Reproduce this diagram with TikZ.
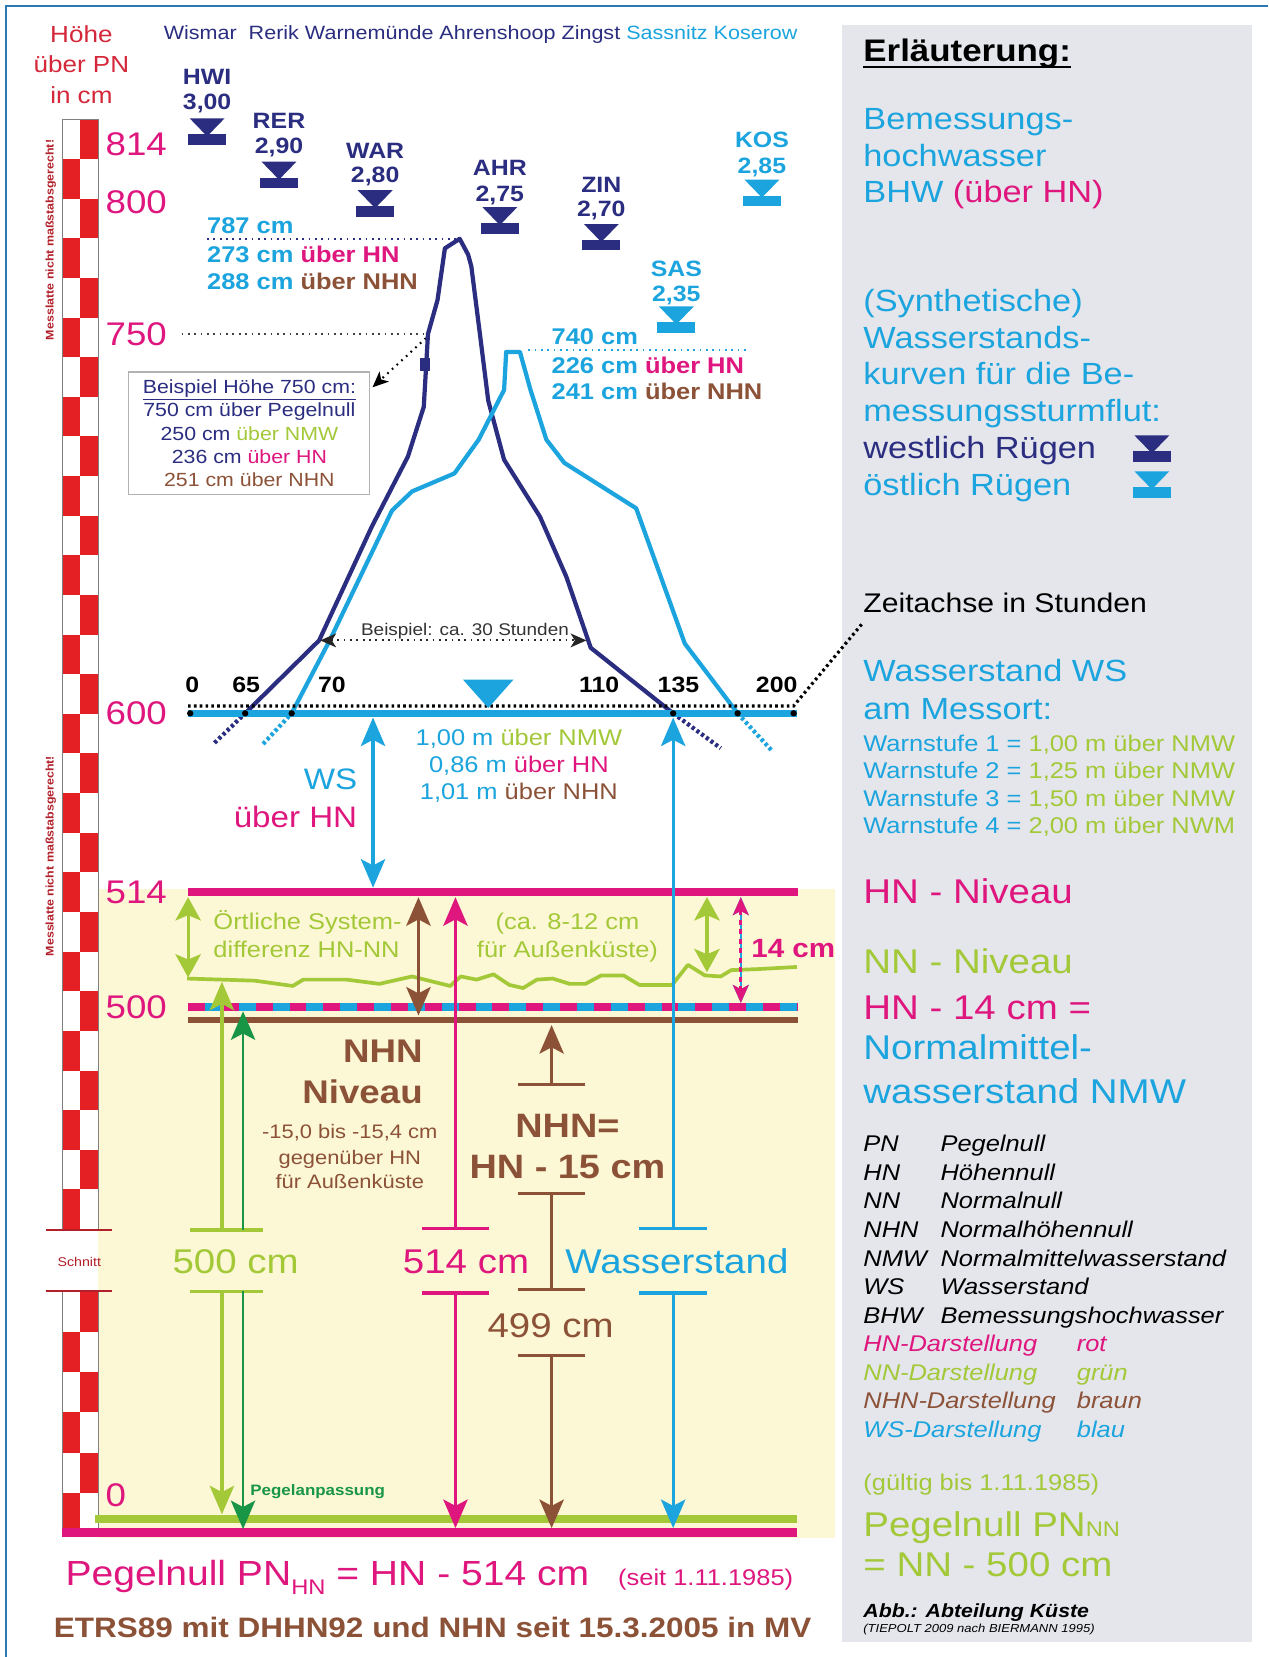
\documentclass[tikz,border=0pt]{standalone}
\usepackage{fontspec}
\setmainfont{Liberation Sans}[FakeStretch=1.12]
\usepackage{xcolor}
\usetikzlibrary{positioning,calc,arrows.meta}

\definecolor{navy}{RGB}{43,46,128}
\definecolor{wsblue}{RGB}{27,164,221}
\definecolor{hnred}{RGB}{222,22,126}
\definecolor{nngreen}{RGB}{163,200,56}
\definecolor{pegelgreen}{RGB}{24,150,70}
\definecolor{nhnbrown}{RGB}{140,82,56}
\definecolor{latte}{RGB}{228,32,36}
\definecolor{darkred}{RGB}{178,32,42}
\definecolor{hoehered}{RGB}{212,40,58}
\definecolor{panelgrey}{RGB}{228,230,236}
\definecolor{cream}{RGB}{252,247,212}
\definecolor{frameblue}{RGB}{45,121,179}

\tikzset{
	% Pegelsymbol (Dreieck mit Balken)
	gauge/.pic={
		\fill[pic actions] (-16.5,0) -- (16.5,0) -- (0,17) -- cycle;
		\fill[pic actions] (-18,15) rectangle (18,25);
	},
	% Pfeilspitzen
	tbar/.tip={Bar[width=64pt]},
	bigtip/.tip={Stealth[length=27pt,width=23pt,inset=6pt]},
	greentip/.tip={Stealth[length=22pt,width=24pt,inset=5pt]},
	smalltip/.tip={Stealth[length=17pt,width=15pt,inset=4pt]},
	dottip/.tip={Stealth[length=15pt,width=13pt,inset=4pt]}
}

\begin{document}
\begin{tikzpicture}[x=1pt, y=-1pt,
	% Grundstil für Texte
	txt/.style={inner sep=0pt, outer sep=0pt},
	% Stationsnamen über den Pegelsymbolen
	gaugelbl/.style={txt, anchor=base, font=\fontsize{21}{21}\selectfont\bfseries},
	% Höhenwerte an der Messlatte
	levellbl/.style={txt, anchor=base west, text=hnred, font=\fontsize{31}{31}\selectfont},
	% Zahlen der Zeitachse
	axislbl/.style={txt, anchor=base, font=\fontsize{21}{21}\selectfont\bfseries},
	% Scheitelwerte der Kurven
	peaklbl/.style={txt, anchor=base west, text=wsblue, font=\fontsize{21.5}{21.5}\selectfont\bfseries},
	% Texte in der Erläuterung
	panelbig/.style={txt, anchor=base west, font=\fontsize{29}{29}\selectfont},
	panelhuge/.style={txt, anchor=base west, font=\fontsize{32.5}{32.5}\selectfont},
	warn/.style={txt, anchor=base west, text=wsblue, font=\fontsize{21.5}{21.5}\selectfont},
	abbr/.style={txt, anchor=base west, font=\fontsize{21.5}{21.5}\selectfont\itshape},
	% große Maßangaben unten
	midlbl/.style={txt, anchor=base, font=\fontsize{32.5}{32.5}\selectfont},
	% Linien
	curvewest/.style={navy, line width=4, line join=round},
	curveeast/.style={wsblue, line width=4, line join=round},
	tail/.style={line width=4, dash pattern=on 3pt off 2.5pt},
	dimline/.style={line width=3},
	dots/.style={line width=2, dash pattern=on 1.6pt off 4.4pt}
	]

	\useasboundingbox (0,0) rectangle (1200,1568);

	% ================= Flächen und Rahmen =================
	\fill[white] (0,0) rectangle (1200,1568);
	\fill[panelgrey] (797,24) rectangle (1185,1554);
	\fill[cream] (93,841) rectangle (790,1455);
	\draw[frameblue, line width=2] (6,1568) -- (6,5.5) -- (1200,5.5);

	% ================= Messlatte =================
	\foreach \i in {0,...,13} {
		\fill[latte] (76,113+75*\i) rectangle (93,150.5+75*\i);
		\fill[latte] (59,150.5+75*\i) rectangle (76,188+75*\i);
	}
	\draw[gray, line width=0.6] (59,113) rectangle (93,1163);
	\foreach \i in {0,1,2} {
		\fill[latte] (76,1222+76.33*\i) rectangle (93,1260.17+76.33*\i);
		\fill[latte] (59,1260.17+76.33*\i) rectangle (76,1298.33+76.33*\i);
	}
	\draw[gray, line width=0.6] (59,1222) rectangle (93,1451);

	% Schnitt
	\draw[darkred, line width=2] (44,1164) -- (106,1164);
	\draw[darkred, line width=2] (44,1222) -- (106,1222);
	\node[txt, text=darkred, font=\fontsize{12}{12}\selectfont] (schnitt) at (75,1194) {Schnitt};

	\node[txt, rotate=90, text=darkred, font=\fontsize{10.5}{10.5}\selectfont\bfseries] (latteoben) at (48,227) {Messlatte nicht maßstabsgerecht!};
	\node[txt, rotate=90, text=darkred, font=\fontsize{10.5}{10.5}\selectfont\bfseries] (latteunten) at (48,810) {Messlatte nicht maßstabsgerecht!};

	% ================= Kopf =================
	\node[txt, anchor=base, text=hoehered, font=\fontsize{22}{22}\selectfont] (hoehe1) at (77,40) {Höhe};
	\node[txt, anchor=base, text=hoehered, font=\fontsize{22}{22}\selectfont] (hoehe2) at (77,69) {über PN};
	\node[txt, anchor=base, text=hoehered, font=\fontsize{22}{22}\selectfont] (hoehe3) at (77,98) {in cm};

	\node[txt, anchor=base west, text=navy, font=\fontsize{18.2}{18.2}\selectfont] (orte) at (155,37)
		{Wismar\ \ Rerik Warnemünde Ahrenshoop Zingst \textcolor{wsblue}{Sassnitz Koserow}};

	% Höhenwerte
	\node[levellbl] (h814) at (100,147) {814};
	\node[levellbl] (h800) at (100,202) {800};
	\node[levellbl] (h750) at (100,327) {750};
	\node[levellbl] (h600) at (100,686) {600};
	\node[levellbl] (h514) at (100,855) {514};
	\node[levellbl] (h500) at (100,964) {500};
	\node[levellbl] (h0) at (100,1426) {0};

	% ================= Pegel (BHW) =================
	\node[gaugelbl, text=navy] (hwi) at (196,80) {HWI};
	\node[gaugelbl, text=navy] (hwiv) at (196,104) {3,00};
	\pic[fill=navy] at (196,112) {gauge};
	\node[gaugelbl, text=navy] (rer) at (264,122) {RER};
	\node[gaugelbl, text=navy] (rerv) at (264,145) {2,90};
	\pic[fill=navy] at (264,153) {gauge};
	\node[gaugelbl, text=navy] (war) at (355,150) {WAR};
	\node[gaugelbl, text=navy] (warv) at (355,173) {2,80};
	\pic[fill=navy] at (355,180) {gauge};
	\node[gaugelbl, text=navy] (ahr) at (473,166) {AHR};
	\node[gaugelbl, text=navy] (ahrv) at (473,191) {2,75};
	\pic[fill=navy] at (473,196) {gauge};
	\node[gaugelbl, text=navy] (zin) at (569,182) {ZIN};
	\node[gaugelbl, text=navy] (zinv) at (569,205) {2,70};
	\pic[fill=navy] at (569,212) {gauge};
	\node[gaugelbl, text=wsblue] (sas) at (640,262) {SAS};
	\node[gaugelbl, text=wsblue] (sasv) at (640,285) {2,35};
	\pic[fill=wsblue] at (640,290) {gauge};
	\node[gaugelbl, text=wsblue] (kos) at (721,140) {KOS};
	\node[gaugelbl, text=wsblue] (kosv) at (721,164) {2,85};
	\pic[fill=wsblue] at (721,170) {gauge};

	% ================= Scheitelwerte =================
	\coordinate (peakW) at (435,226);
	\coordinate (peakE) at (500,331);
	\coordinate (c750) at (405,316);
	\draw[navy, dots] (196,226) -- (peakW);
	\draw[wsblue, dots] (peakE) -- (707,331);
	\draw[black!75, dots] (172,316) -- (c750);

	\node[peaklbl] (p787) at (196,221) {787 cm};
	\node[peaklbl] (p273) at (196,248) {273 cm \textcolor{hnred}{über HN}};
	\node[peaklbl] (p288) at (196,274) {288 cm \textcolor{nhnbrown}{über NHN}};
	\node[peaklbl] (p740) at (522,326) {740 cm};
	\node[peaklbl] (p226) at (522,353) {226 cm \textcolor{hnred}{über HN}};
	\node[peaklbl] (p241) at (522,378) {241 cm \textcolor{nhnbrown}{über NHN}};

	% Beispielkasten
	\node[draw=gray!60, line width=1, fill=white, align=center, text=navy,
		font=\fontsize{18}{22}\selectfont, inner xsep=6pt, inner ysep=4pt,
		minimum width=228pt, minimum height=116pt] (bsp) at (236,410)
		{\underline{Beispiel Höhe 750 cm:}\\750 cm über Pegelnull\\250 cm \textcolor{nngreen}{über NMW}\\236 cm \textcolor{hnred}{über HN}\\\textcolor{nhnbrown}{251 cm über NHN}};
	\draw[black, dots, -dottip] (403,320) -- ([shift={(2,15)}]bsp.north east);

	% ================= Wasserstandskurven =================
	\draw[curvewest] (232,675) -- (302,606) -- (352,498) -- (386,432) -- (401,385) -- (405,316)
		-- (414,284) -- (421,235) -- (435,226) -- (443,241) -- (446,252) -- (454,315) -- (462,379)
		-- (477,435) -- (511,489) -- (536,546) -- (559,613) -- (637,675);
	\draw[curveeast] (276,675) -- (312,606) -- (371,483) -- (390,465) -- (430,448) -- (453,416)
		-- (477,369) -- (479,333) -- (492,333) -- (502,369) -- (517,416) -- (534,438) -- (602,481)
		-- (648,609) -- (698,675);
	\draw[navy, tail] (203,703) -- (232,675);
	\draw[navy, tail] (637,675) -- (682,708);
	\draw[wsblue, tail] (249,704) -- (276,675);
	\draw[wsblue, tail] (698,675) -- (731,711);
	\fill[navy] (397,339) rectangle (407,351);

	% Dauer
	\coordinate (t70) at (303,606);
	\coordinate (t110) at (555,606);
	\draw[black!85, dots, dottip-dottip] (t70) -- (t110);
	\node[txt, anchor=base, text=black!80, font=\fontsize{16}{16}\selectfont] (dauer) at (440,601) {Beispiel: ca. 30 Stunden};

	% ================= Zeitachse (600) =================
	\coordinate (axL) at (178,675);
	\coordinate (axR) at (754,675);
	\coordinate (zeit) at (816,590);
	\draw[wsblue, line width=6.5] (axL) -- (axR);
	\draw[black, line width=3, dash pattern=on 2.5pt off 3pt] (178,668) -- (751,668) -- (zeit);
	\foreach \x in {180,232,276,637,698,751} \fill[black] (\x,675) circle (3);
	\fill[wsblue] (438,643) -- (486,643) -- (462,670) -- cycle;

	\node[axislbl] (a0) at (182,655) {0};
	\node[axislbl] (a65) at (233,655) {65};
	\node[axislbl] (a70) at (314,655) {70};
	\node[axislbl] (a110) at (567,655) {110};
	\node[axislbl] (a135) at (642,655) {135};
	\node[axislbl] (a200) at (735,655) {200};

	\node[txt, anchor=base, text=wsblue, font=\fontsize{21.5}{21.5}\selectfont] (ws1) at (491,705) {1,00 m \textcolor{nngreen}{über NMW}};
	\node[txt, anchor=base, text=wsblue, font=\fontsize{21.5}{21.5}\selectfont] (ws2) at (491,731) {0,86 m \textcolor{hnred}{über HN}};
	\node[txt, anchor=base, text=wsblue, font=\fontsize{21.5}{21.5}\selectfont] (ws3) at (491,757) {1,01 m \textcolor{nhnbrown}{über NHN}};
	\node[txt, anchor=base east, text=wsblue, font=\fontsize{28}{28}\selectfont] (wslbl) at (338,747) {WS};
	\node[txt, anchor=base east, text=hnred, font=\fontsize{28}{28}\selectfont] (wshn) at (338,783) {über HN};

	% ================= Höhenniveaus =================
	\draw[hnred, line width=7] (178,844) -- (755,844);
	\draw[wsblue, line width=7] (178,953) -- (755,953);
	\draw[hnred, line width=7, dash pattern=on 16pt off 16pt] (178,953) -- (755,953);
	\draw[nhnbrown, line width=6] (178,965) -- (755,965);
	\draw[nngreen, line width=3.5, line join=round] (177,926) -- (210,927) -- (241,928) -- (277,933)
		-- (287,927) -- (328,927) -- (359,931) -- (390,924) -- (410,929) -- (426,933) -- (436,924)
		-- (451,927) -- (467,922) -- (482,932) -- (495,935) -- (508,927) -- (523,926) -- (539,931)
		-- (554,931) -- (569,923) -- (590,923) -- (605,932) -- (636,932) -- (651,913) -- (667,923)
		-- (682,924) -- (692,918) -- (718,917) -- (754,915);
	\draw[nngreen, line width=7] (90,1437.5) -- (754,1437.5);
	\draw[hnred, line width=8] (59,1450) -- (754,1450);

	% ================= Maßpfeile =================
	% WS über HN
	\coordinate (wsTop) at (353,679);
	\coordinate (wsBot) at (353,840);
	\draw[wsblue, dimline, bigtip-bigtip] (wsTop) -- (wsBot);

	% Systemdifferenz HN-NN
	\draw[nngreen, dimline, greentip-greentip] (178,849) -- (178,925);
	\draw[nngreen, dimline, greentip-greentip] (669,849) -- (669,920);
	\draw[nhnbrown, dimline, bigtip-bigtip] (396,849) -- (396,961);

	% 14 cm
	\draw[wsblue, line width=1.8, smalltip-smalltip] (701,849) -- (701,949);
	\draw[hnred, line width=2.5, dash pattern=on 5pt off 4pt, smalltip-smalltip] (701,849) -- (701,949);
	\node[txt, anchor=base west, text=hnred, font=\fontsize{25}{25}\selectfont\bfseries] (cm14) at (711,906) {14 cm};

	% 500 cm / Pegelanpassung
	\draw[nngreen, dimline] (180,1164) -- (249,1164);
	\draw[nngreen, dimline] (180,1222) -- (249,1222);
	\draw[nngreen, dimline, -bigtip] (210,1164) -- (210,929);
	\draw[pegelgreen, line width=2.5, -bigtip] (230,1164) -- (230,957);
	\draw[nngreen, dimline, -bigtip] (210,1222) -- (210,1433);
	\draw[pegelgreen, line width=2.5, -bigtip] (230,1222) -- (230,1447);

	% 514 cm
	\draw[hnred, dimline, tbar-bigtip] (431,1164) -- (431,849);
	\draw[hnred, dimline, tbar-bigtip] (431,1222) -- (431,1446);

	% Wasserstand
	\draw[wsblue, dimline, tbar-bigtip] (637,1164) -- (637,679);
	\draw[wsblue, dimline, tbar-bigtip] (637,1222) -- (637,1446);

	% NHN
	\draw[nhnbrown, dimline, tbar-bigtip] (522,1028) -- (522,970);
	\draw[nhnbrown, dimline, tbar-tbar] (522,1128) -- (522,1222);
	\draw[nhnbrown, dimline, tbar-bigtip] (522,1281) -- (522,1446);

	% ================= Texte im Pegelbereich =================
	\node[txt, anchor=base west, text=nngreen, font=\fontsize{21.5}{21.5}\selectfont] (sys1) at (202,880) {Örtliche System-};
	\node[txt, anchor=base west, text=nngreen, font=\fontsize{21.5}{21.5}\selectfont] (sys2) at (202,906) {differenz HN-NN};
	\node[txt, anchor=base, text=nngreen, font=\fontsize{21.5}{21.5}\selectfont] (ca1) at (537,880) {(ca. 8-12 cm};
	\node[txt, anchor=base, text=nngreen, font=\fontsize{21.5}{21.5}\selectfont] (ca2) at (537,906) {für Außenküste)};

	\node[txt, anchor=base east, text=nhnbrown, font=\fontsize{31}{31}\selectfont\bfseries] (nhn1) at (400,1005) {NHN};
	\node[txt, anchor=base east, text=nhnbrown, font=\fontsize{31}{31}\selectfont\bfseries] (nhn2) at (400,1044) {Niveau};
	\node[txt, anchor=base, text=nhnbrown, font=\fontsize{18.5}{18.5}\selectfont] (diff1) at (331,1077) {-15,0 bis -15,4 cm};
	\node[txt, anchor=base, text=nhnbrown, font=\fontsize{18.5}{18.5}\selectfont] (diff2) at (331,1102) {gegenüber HN};
	\node[txt, anchor=base, text=nhnbrown, font=\fontsize{18.5}{18.5}\selectfont] (diff3) at (331,1125) {für Außenküste};
	\node[txt, anchor=base, text=nhnbrown, font=\fontsize{32}{32}\selectfont\bfseries] (nhneq1) at (537,1076) {NHN=};
	\node[txt, anchor=base, text=nhnbrown, font=\fontsize{32}{32}\selectfont\bfseries] (nhneq2) at (537,1115) {HN - 15 cm};

	\node[midlbl, text=nngreen] (m500) at (223,1205) {500 cm};
	\node[midlbl, text=hnred] (m514) at (441,1205) {514 cm};
	\node[midlbl, anchor=base west, text=wsblue] (mws) at (535,1205) {Wasserstand};
	\node[midlbl, text=nhnbrown] (m499) at (521,1266) {499 cm};
	\node[txt, anchor=base west, text=pegelgreen, font=\fontsize{14.3}{14.3}\selectfont\bfseries] (anpass) at (237,1415) {Pegelanpassung};

	% ================= Fußzeilen =================
	\node[txt, anchor=base west, text=hnred, font=\fontsize{33}{33}\selectfont] (pnhn) at (62,1500)
		{Pegelnull PN\raisebox{-9pt}{\fontsize{20}{20}\selectfont HN} = HN - 514 cm};
	\node[txt, anchor=base west, text=hnred, font=\fontsize{21.5}{21.5}\selectfont] (seit) at (585,1500) {(seit 1.11.1985)};
	\node[txt, anchor=base west, text=nhnbrown, font=\fontsize{26.6}{26.6}\selectfont\bfseries] (etrs) at (51,1550)
		{ETRS89 mit DHHN92 und NHN seit 15.3.2005 in MV};

	% ================= Erläuterung =================
	\node[txt, anchor=base west, font=\fontsize{29.5}{29.5}\selectfont\bfseries] (erl) at (817,58) {Erläuterung:};
	\draw[line width=1.8] ([yshift=-5pt]erl.base west) -- ([yshift=-5pt]erl.base east);

	\node[panelbig, text=wsblue] (bhw1) at (817,123) {Bemessungs-};
	\node[panelbig, text=wsblue] (bhw2) at (817,158) {hochwasser};
	\node[panelbig, text=wsblue] (bhw3) at (817,192) {BHW \textcolor{hnred}{(über HN)}};

	\node[panelbig, text=wsblue] (syn1) at (817,295) {(Synthetische)};
	\node[panelbig, text=wsblue] (syn2) at (817,330) {Wasserstands-};
	\node[panelbig, text=wsblue] (syn3) at (817,364) {kurven für die Be-};
	\node[panelbig, text=wsblue] (syn4) at (817,399) {messungssturmflut:};
	\node[panelbig, text=navy] (west) at (817,434) {westlich Rügen};
	\node[panelbig, text=wsblue] (ost) at (817,469) {östlich Rügen};
	\pic[fill=navy] at (1090,412) {gauge};
	\pic[fill=wsblue] at (1090,446) {gauge};

	\node[txt, anchor=base west, font=\fontsize{25.5}{25.5}\selectfont] (zeitlbl) at (817,580) {Zeitachse in Stunden};

	\node[panelbig, text=wsblue] (wsp1) at (817,645) {Wasserstand WS};
	\node[panelbig, text=wsblue] (wsp2) at (817,681) {am Messort:};
	\node[warn] (warn1) at (817,711) {Warnstufe 1 = \textcolor{nngreen}{1,00 m über NMW}};
	\node[warn] (warn2) at (817,737) {Warnstufe 2 = \textcolor{nngreen}{1,25 m über NMW}};
	\node[warn] (warn3) at (817,763) {Warnstufe 3 = \textcolor{nngreen}{1,50 m über NMW}};
	\node[warn] (warn4) at (817,789) {Warnstufe 4 = \textcolor{nngreen}{2,00 m über NWM}};

	\node[panelhuge, text=hnred] (hnniv) at (817,855) {HN - Niveau};
	\node[panelhuge, text=nngreen] (nnniv) at (817,921) {NN - Niveau};
	\node[panelhuge, text=hnred] (hn14) at (817,965) {HN - 14 cm =};
	\node[panelhuge, text=wsblue] (nmw1) at (817,1003) {Normalmittel-};
	\node[panelhuge, text=wsblue] (nmw2) at (817,1044) {wasserstand NMW};

	% Abkürzungen
	\node[abbr] (pn) at (817,1090) {PN};            \node[abbr] (pnd) at (890,1090) {Pegelnull};
	\node[abbr] (hn) at (817,1117) {HN};            \node[abbr] (hnd) at (890,1117) {Höhennull};
	\node[abbr] (nn) at (817,1144) {NN};            \node[abbr] (nnd) at (890,1144) {Normalnull};
	\node[abbr] (nhn) at (817,1171) {NHN};          \node[abbr] (nhnd) at (890,1171) {Normalhöhennull};
	\node[abbr] (nmw) at (817,1198) {NMW};          \node[abbr] (nmwd) at (890,1198) {Normalmittelwasserstand};
	\node[abbr] (ws) at (817,1225) {WS};            \node[abbr] (wsd) at (890,1225) {Wasserstand};
	\node[abbr] (bhw) at (817,1252) {BHW};          \node[abbr] (bhwd) at (890,1252) {Bemessungshochwasser};
	\node[abbr, text=hnred] (dhn) at (817,1279) {HN-Darstellung};       \node[abbr, text=hnred] (dhnf) at (1019,1279) {rot};
	\node[abbr, text=nngreen] (dnn) at (817,1306) {NN-Darstellung};     \node[abbr, text=nngreen] (dnnf) at (1019,1306) {grün};
	\node[abbr, text=nhnbrown] (dnhn) at (817,1333) {NHN-Darstellung};  \node[abbr, text=nhnbrown] (dnhnf) at (1019,1333) {braun};
	\node[abbr, text=wsblue] (dws) at (817,1360) {WS-Darstellung};      \node[abbr, text=wsblue] (dwsf) at (1019,1360) {blau};

	\node[txt, anchor=base west, text=nngreen, font=\fontsize{21.5}{21.5}\selectfont] (gueltig) at (817,1410) {(gültig bis 1.11.1985)};
	\node[panelhuge, text=nngreen] (pnnn1) at (817,1454) {Pegelnull PN{\fontsize{20}{20}\selectfont NN}};
	\node[panelhuge, text=nngreen] (pnnn2) at (817,1492) {= NN - 500 cm};

	\node[txt, anchor=base west, font=\fontsize{18}{18}\selectfont\bfseries\itshape] (abb) at (817,1531) {Abb.: Abteilung Küste};
	\node[txt, anchor=base west, font=\fontsize{11}{11}\selectfont\itshape] (quelle) at (817,1545) {(TIEPOLT 2009 nach BIERMANN 1995)};

\end{tikzpicture}
\end{document}
